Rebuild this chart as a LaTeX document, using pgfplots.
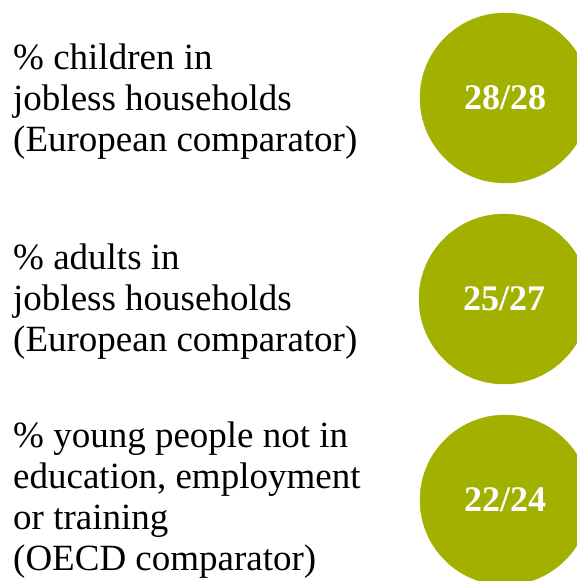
\documentclass[border=0pt]{standalone}
\usepackage{pgfplots}
\pgfplotsset{compat=1.18}
\usepackage{fontspec}
\setmainfont{Liberation Serif}
\definecolor{olivec}{RGB}{162,176,0}
\begin{document}
\begin{tikzpicture}
\begin{axis}[
  scale only axis, width=577pt, height=581pt,
  xmin=0, xmax=577, ymin=0, ymax=581, y dir=reverse,
  hide axis, clip marker paths=true,
]
\addplot[only marks, mark=*, mark size=85pt, color=olivec,
  nodes near coords, point meta=explicit symbolic,
  nodes near coords style={anchor=center, text=white, font=\bfseries\fontsize{36}{40}\selectfont}]
  table[meta=label] {
x y label
505 98 28/28
504 299 25/27
505 500 22/24
};
\tikzset{lbl/.style={anchor=base west, inner sep=0pt, font=\fontsize{37}{41}\selectfont}}
\node[lbl] at (axis cs:13,69) {\% children in};
\node[lbl] at (axis cs:13,110) {jobless households};
\node[lbl] at (axis cs:13,151) {(European comparator)};
\node[lbl] at (axis cs:13,269) {\% adults in};
\node[lbl] at (axis cs:13,310) {jobless households};
\node[lbl] at (axis cs:13,351) {(European comparator)};
\node[lbl] at (axis cs:13,447) {\% young people not in};
\node[lbl] at (axis cs:13,488) {education, employment};
\node[lbl] at (axis cs:13,529) {or training};
\node[lbl] at (axis cs:13,570) {(OECD comparator)};
\end{axis}
\pgfresetboundingbox
\useasboundingbox (current axis.south west) rectangle (current axis.north east);
\end{tikzpicture}
\end{document}
